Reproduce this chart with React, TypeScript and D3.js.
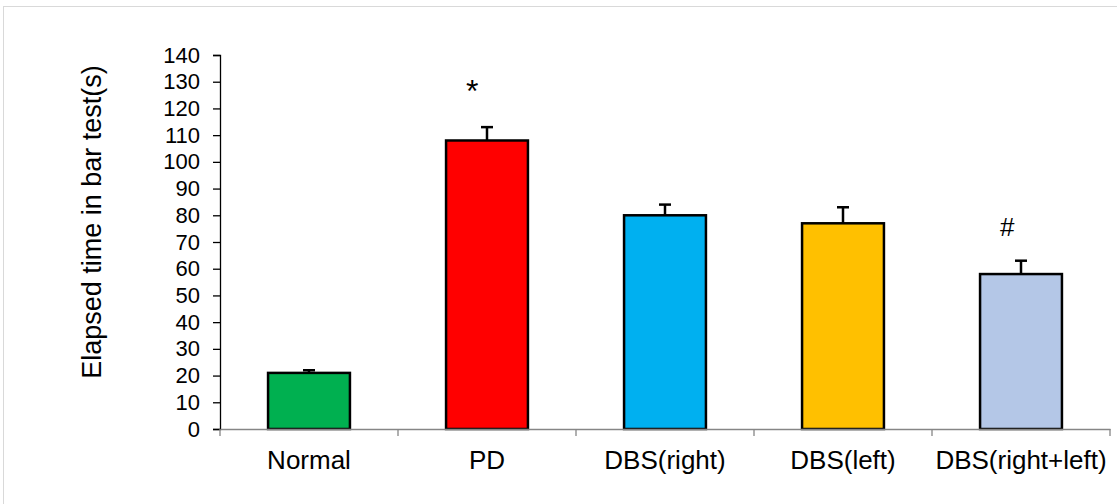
import * as React from 'react'
import * as d3 from 'd3'

const groups = ['Normal', 'PD', 'DBS(right)', 'DBS(left)', 'DBS(right+left)']
const means = [21, 108, 80, 77, 58]
const errors = [1, 5, 4, 6, 5]
const fills = ['#00B050', '#FF0000', '#00B0F0', '#FFC000', '#B4C7E7']
const marks = ['', '*', '', '', '#']
const markSizes = [0, 32, 0, 0, 26]
const yTicks = [0, 10, 20, 30, 40, 50, 60, 70, 80, 90, 100, 110, 120, 130, 140]

const W = 1117
const H = 504
const margin = { top: 55, right: 7, bottom: 75, left: 220 }
const font = '"Liberation Sans", Arial, sans-serif'

export default function App() {
  const ref = React.useRef<SVGSVGElement>(null)

  React.useEffect(() => {
    const svg = d3.select(ref.current)
    svg.selectAll('*').remove()

    const innerW = W - margin.left - margin.right
    const innerH = H - margin.top - margin.bottom

    const x = d3.scaleBand().domain(groups).range([0, innerW]).padding(0)
    const y = d3.scaleLinear().domain([0, 140]).range([innerH, 0])
    const barW = x.bandwidth() * 0.46
    const barX = (d: string) => x(d)! + (x.bandwidth() - barW) / 2

    // frame
    svg.append('rect')
      .attr('x', 3.5).attr('y', 6.5)
      .attr('width', W + 10).attr('height', H + 10)
      .attr('fill', '#fff').attr('stroke', '#d9d9d9').attr('stroke-width', 1)

    const g = svg.append('g')
      .attr('transform', `translate(${margin.left}, ${margin.top})`)

    // bars
    g.selectAll('.bar')
      .data(groups)
      .enter().append('rect')
      .attr('class', 'bar')
      .attr('x', d => barX(d))
      .attr('y', (d, i) => y(means[i]))
      .attr('width', barW)
      .attr('height', (d, i) => y(0) - y(means[i]))
      .attr('fill', (d, i) => fills[i])
      .attr('stroke', '#000')
      .attr('stroke-width', 2.5)

    // error bars (upper)
    const err = g.selectAll('.err')
      .data(groups)
      .enter().append('g')
      .attr('class', 'err')
      .attr('stroke', '#000')
      .attr('stroke-width', 2.5)
    err.append('line')
      .attr('x1', d => x(d)! + x.bandwidth() / 2)
      .attr('x2', d => x(d)! + x.bandwidth() / 2)
      .attr('y1', (d, i) => y(means[i]))
      .attr('y2', (d, i) => y(means[i] + errors[i]))
    err.append('line')
      .attr('x1', d => x(d)! + x.bandwidth() / 2 - 6)
      .attr('x2', d => x(d)! + x.bandwidth() / 2 + 6)
      .attr('y1', (d, i) => y(means[i] + errors[i]))
      .attr('y2', (d, i) => y(means[i] + errors[i]))

    // significance marks
    g.selectAll('.mark')
      .data(groups)
      .enter().append('text')
      .attr('class', 'mark')
      .attr('x', d => barX(d) + 20)
      .attr('y', (d, i) => y(means[i] + errors[i]) - 25)
      .attr('font-family', font)
      .attr('font-size', (d, i) => markSizes[i])
      .attr('fill', '#000')
      .text((d, i) => marks[i])

    // y axis
    const yAxis = g.append('g')
      .call(d3.axisLeft(y).tickValues(yTicks).tickSize(7).tickPadding(13).tickSizeOuter(7))
    yAxis.select('.domain').attr('stroke', '#000').attr('stroke-width', 1.3)
    yAxis.selectAll('.tick line').attr('stroke', '#000').attr('stroke-width', 1.3)
    yAxis.selectAll('.tick text')
      .attr('font-family', font).attr('font-size', 22).attr('fill', '#000')

    // x axis
    const xAxis = g.append('g')
      .attr('transform', `translate(0, ${innerH})`)
      .call(d3.axisBottom(x).tickSize(0).tickPadding(22))
    xAxis.select('.domain').attr('stroke', '#868686').attr('stroke-width', 1.5)
    xAxis.selectAll('.tick text')
      .attr('font-family', font).attr('font-size', 26).attr('fill', '#000')

    const edges = groups.map(d => x(d)!).concat([innerW])
    g.selectAll('.xedge')
      .data(edges)
      .enter().append('line')
      .attr('class', 'xedge')
      .attr('x1', d => d).attr('x2', d => d)
      .attr('y1', innerH).attr('y2', innerH + 7)
      .attr('stroke', '#868686').attr('stroke-width', 1.3)

    // y label
    svg.append('text')
      .attr('transform', `translate(101, 222) rotate(-90)`)
      .attr('text-anchor', 'middle')
      .attr('font-family', font)
      .attr('font-size', 27)
      .attr('fill', '#000')
      .text('Elapsed time in bar test(s)')
  }, [])

  return (
    <svg ref={ref} width={W} height={H}
      style={{ position: 'absolute', left: 0, top: 0, background: '#fff' }} />
  )
}
